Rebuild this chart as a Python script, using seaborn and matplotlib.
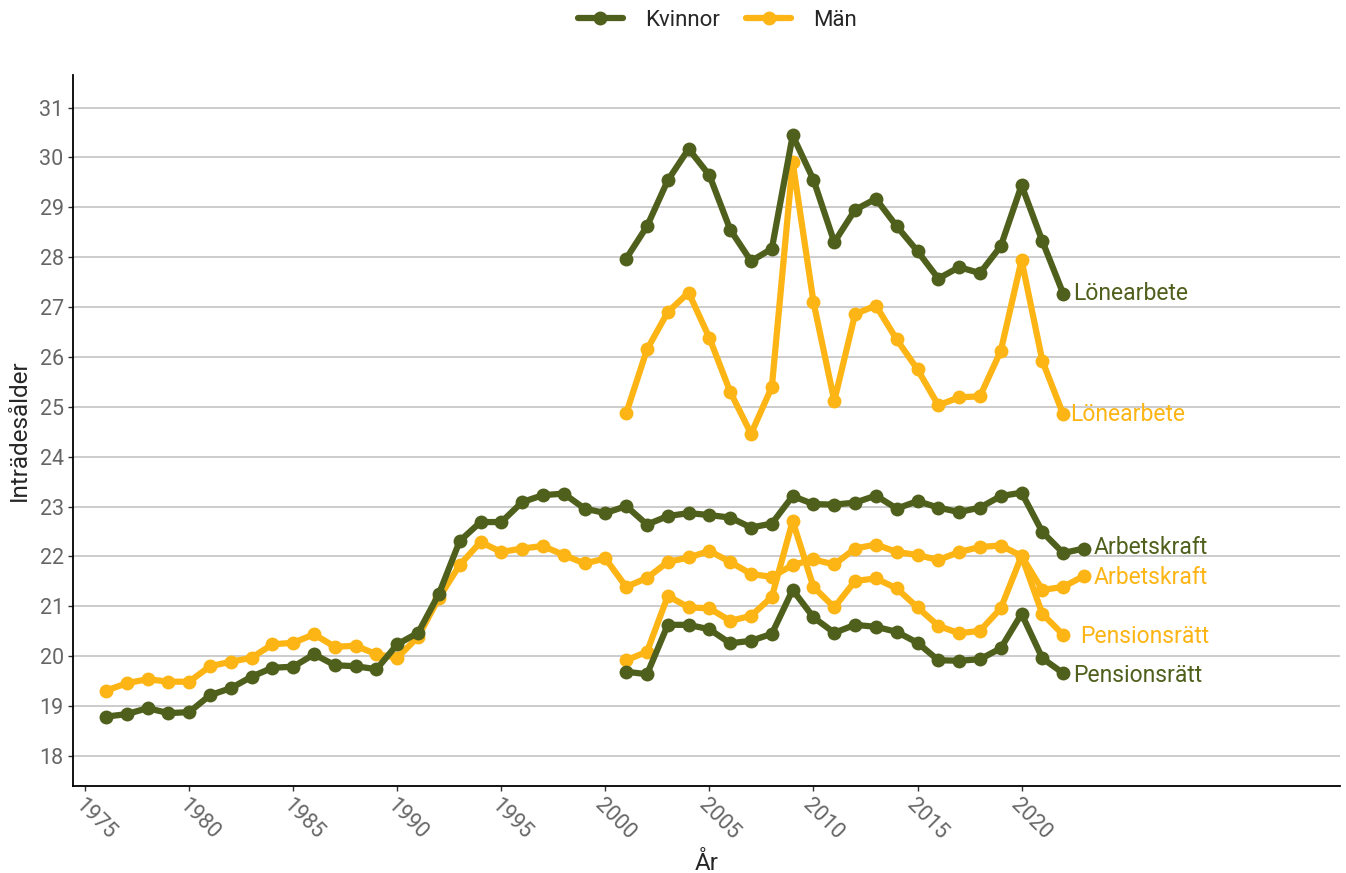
import numpy as np
import pandas as pd
import seaborn as sns
import matplotlib.pyplot as plt

# years
years_full = list(range(1976, 2024))
years_short = list(range(2001, 2023))

# Arbetskraft (1976-2023)
kvinnor_arbetskraft = [18.79, 18.84, 18.96, 18.86, 18.88, 19.22, 19.36, 19.59, 19.77, 19.79,
                       20.04, 19.82, 19.80, 19.74, 20.24, 20.47, 21.25, 22.31, 22.69, 22.69,
                       23.09, 23.23, 23.26, 22.96, 22.87, 23.01, 22.64, 22.81, 22.87, 22.83,
                       22.78, 22.58, 22.66, 23.21, 23.05, 23.04, 23.08, 23.22, 22.96, 23.11,
                       22.98, 22.89, 22.98, 23.21, 23.28, 22.49, 22.07, 22.16]
man_arbetskraft = [19.31, 19.46, 19.54, 19.49, 19.49, 19.80, 19.89, 19.97, 20.24, 20.27,
                   20.44, 20.19, 20.21, 20.04, 19.97, 20.39, 21.17, 21.83, 22.29, 22.09,
                   22.16, 22.21, 22.03, 21.86, 21.96, 21.39, 21.57, 21.89, 21.98, 22.11,
                   21.89, 21.65, 21.59, 21.83, 21.94, 21.84, 22.16, 22.24, 22.09, 22.03,
                   21.93, 22.09, 22.19, 22.22, 22.01, 21.33, 21.39, 21.61]

# Lönearbete (2001-2022)
kvinnor_lonearbete = [27.97, 28.62, 29.54, 30.17, 29.64, 28.55, 27.92, 28.17, 30.44, 29.55, 28.30,
                      28.95, 29.17, 28.62, 28.12, 27.57, 27.80, 27.68, 28.22, 29.44, 28.32, 27.27]
man_lonearbete = [24.87, 26.15, 26.90, 27.29, 26.38, 25.30, 24.46, 25.40, 29.90, 27.10, 25.12,
                  26.86, 27.03, 26.35, 25.75, 25.03, 25.19, 25.21, 26.12, 27.94, 25.92, 24.85]

# Pensionsrätt (2001-2022)
kvinnor_pension = [19.69, 19.64, 20.63, 20.63, 20.54, 20.26, 20.31, 20.45, 21.33, 20.78, 20.47,
                   20.63, 20.59, 20.49, 20.27, 19.92, 19.91, 19.94, 20.16, 20.85, 19.96, 19.66]
man_pension = [19.92, 20.09, 21.21, 20.98, 20.96, 20.71, 20.81, 21.19, 22.71, 21.39, 20.98,
               21.51, 21.56, 21.36, 20.98, 20.61, 20.46, 20.51, 20.96, 22.01, 20.85, 20.43]

series = [
    ('Kvinnor', 'Arbetskraft', years_full, kvinnor_arbetskraft),
    ('Män', 'Arbetskraft', years_full, man_arbetskraft),
    ('Kvinnor', 'Lönearbete', years_short, kvinnor_lonearbete),
    ('Män', 'Lönearbete', years_short, man_lonearbete),
    ('Kvinnor', 'Pensionsrätt', years_short, kvinnor_pension),
    ('Män', 'Pensionsrätt', years_short, man_pension),
]

rows = []
for kon, matt, yrs, vals in series:
    for y, v in zip(yrs, vals):
        rows.append({'År': y, 'Inträdesålder': v, 'Kön': kon, 'Mått': matt})
df = pd.DataFrame(rows)

colors = {'Kvinnor': '#4f5f1c', 'Män': '#fdb515'}

sns.set_style('white')
plt.rcParams['font.family'] = ['Roboto', 'DejaVu Sans']

fig, ax = plt.subplots(figsize=(13.46, 8.73), dpi=100)
fig.subplots_adjust(left=0.054, right=0.9955, top=0.914, bottom=0.0997)

sns.lineplot(data=df, x='År', y='Inträdesålder', hue='Kön', units='Mått', estimator=None,
             hue_order=['Män', 'Kvinnor'], palette=colors, marker='o', markersize=10,
             markeredgewidth=0, linewidth=4.5, ax=ax)

# end labels
offsets = {('Kvinnor', 'Lönearbete'): (7, 0), ('Män', 'Lönearbete'): (5, 0),
           ('Kvinnor', 'Arbetskraft'): (7, 1), ('Män', 'Arbetskraft'): (7, -1),
           ('Kvinnor', 'Pensionsrätt'): (7, -2), ('Män', 'Pensionsrätt'): (12, -1)}
for kon, matt, yrs, vals in series:
    ax.annotate(matt, (yrs[-1], vals[-1]), xytext=offsets[(kon, matt)], textcoords='offset points',
                color=colors[kon], fontsize=16.5, ha='left', va='center')

ax.set_xlim(1974.4, 2035.3)
ax.set_ylim(17.4, 31.65)
ax.set_xticks(range(1975, 2021, 5))
ax.set_yticks(range(18, 32))
ax.yaxis.grid(True, color='#c8c8c8', linewidth=1.3)
ax.xaxis.grid(False)
for s in ['top', 'right']:
    ax.spines[s].set_visible(False)
for s in ['left', 'bottom']:
    ax.spines[s].set_color('black')
    ax.spines[s].set_linewidth(1.3)
ax.tick_params(axis='both', which='both', length=3.5, width=1, color='#333333',
               labelcolor='#666666', labelsize=15.5, direction='out', left=True, bottom=True,
               pad=3)
plt.setp(ax.get_xticklabels(), rotation=-45, ha='left', va='top', rotation_mode='anchor')
ax.set_xlabel('År', fontsize=17.5, labelpad=6)
ax.set_ylabel('Inträdesålder', fontsize=17.5, labelpad=6)

handles, labels = ax.get_legend_handles_labels()
ax.get_legend().remove()
fig.legend(handles[::-1], labels[::-1], loc='center', bbox_to_anchor=(0.533, 0.977), ncol=2,
           frameon=False, fontsize=16, handlelength=2.0, handletextpad=1.0, columnspacing=1.2)

fig.savefig('out.png', dpi=100)
